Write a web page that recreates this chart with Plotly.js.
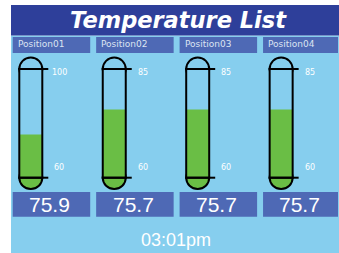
<!DOCTYPE html>
<html>
<head>
<meta charset="utf-8">
<script src="https://cdn.plot.ly/plotly-3.0.1.min.js"></script>
<style>html,body{margin:0;padding:0;background:#fff;}#chart{width:339px;height:253px;}</style>
</head>
<body>
<div id="chart"></div>
<script>
// ---- data ----
const titleText = 'Temperature List';
const positions = ['Position01', 'Position02', 'Position03', 'Position04'];
const values = [75.9, 75.7, 75.7, 75.7];
const scaleMin = [60, 60, 60, 60];
const scaleMax = [100, 85, 85, 85];
const timeLabel = '03:01pm';

// ---- layout constants (pixels) ----
const W = 339, H = 253;
const px = x => x / W;
const py = y => 1 - y / H;
const BG = '#86CEEE', BAR = '#2E3F9A', BOX = '#4E69B5', GREEN = '#6ABE45';
const pitch = 83.45;
const tubeL0 = 19.3, tubeW = 23, topY = 69, botY = 177.7, domeR = 11.5;

const traces = [];
const layout = {
  width: W, height: H,
  margin: {l: 0, r: 0, t: 0, b: 0},
  paper_bgcolor: '#ffffff',
  plot_bgcolor: 'rgba(0,0,0,0)',
  showlegend: false,
  shapes: [],
  annotations: []
};

// backgrounds
layout.shapes.push({type: 'rect', xref: 'paper', yref: 'paper', x0: px(11), x1: 1, y0: 0, y1: py(35.5), fillcolor: BG, line: {width: 0}, layer: 'below'});
layout.shapes.push({type: 'rect', xref: 'paper', yref: 'paper', x0: px(11), x1: 1, y0: py(35.5), y1: py(5), fillcolor: BAR, line: {width: 0}, layer: 'below'});
layout.annotations.push({xref: 'paper', yref: 'paper', x: px(178.5), y: py(20.5), text: titleText, showarrow: false,
  xanchor: 'center', yanchor: 'middle',
  font: {family: 'DejaVu Sans', size: 22.5, color: '#ffffff', weight: 'bold', style: 'italic'}});
layout.annotations.push({xref: 'paper', yref: 'paper', x: px(176), y: py(239.5), text: timeLabel, showarrow: false,
  xanchor: 'center', yanchor: 'middle',
  font: {family: 'Liberation Sans, Arial', size: 18, color: '#ffffff'}});

positions.forEach((name, i) => {
  const n = i === 0 ? '' : String(i + 1);
  const boxL = 12.7 + i * pitch, boxR = Math.min(boxL + 77.5, 338);
  const L = tubeL0 + i * pitch, R = L + tubeW, cx = (L + R) / 2;

  // label boxes
  layout.shapes.push({type: 'rect', xref: 'paper', yref: 'paper', x0: px(boxL), x1: px(boxR), y0: py(53), y1: py(37), fillcolor: BOX, line: {width: 0}, layer: 'below'});
  layout.shapes.push({type: 'rect', xref: 'paper', yref: 'paper', x0: px(boxL), x1: px(boxR), y0: py(216.7), y1: py(192), fillcolor: BOX, line: {width: 0}, layer: 'below'});
  layout.annotations.push({xref: 'paper', yref: 'paper', x: px(boxL + 3), y: py(43.5), text: name, showarrow: false,
    xanchor: 'left', yanchor: 'middle', font: {family: 'DejaVu Sans', size: 9, color: '#DCE4F2'}});
  layout.annotations.push({xref: 'paper', yref: 'paper', x: px((boxL + boxR) / 2 - 1.5), y: py(204), text: values[i].toFixed(1), showarrow: false,
    xanchor: 'center', yanchor: 'middle', font: {family: 'Liberation Sans, Arial', size: 21, color: '#ffffff'}});

  // thermometer body (below traces)
  layout.shapes.push({type: 'circle', xref: 'paper', yref: 'paper', x0: px(cx - domeR), x1: px(cx + domeR), y0: py(topY + domeR), y1: py(topY - domeR), fillcolor: BG, line: {color: '#000', width: 2}, layer: 'below'});
  layout.shapes.push({type: 'circle', xref: 'paper', yref: 'paper', x0: px(cx - domeR), x1: px(cx + domeR), y0: py(botY + 12.3 - 1), y1: py(botY - 12.3 + 1), fillcolor: GREEN, line: {color: '#000', width: 2}, layer: 'below'});
  layout.shapes.push({type: 'rect', xref: 'paper', yref: 'paper', x0: px(L), x1: px(R), y0: py(botY), y1: py(topY), fillcolor: BG, line: {width: 0}, layer: 'below'});
  // outline above traces
  layout.shapes.push({type: 'rect', xref: 'paper', yref: 'paper', x0: px(L), x1: px(R), y0: py(botY), y1: py(topY), fillcolor: 'rgba(0,0,0,0)', line: {color: '#000', width: 2}, layer: 'above'});
  layout.shapes.push({type: 'line', xref: 'paper', yref: 'paper', x0: px(L - 1), x1: px(R + 6), y0: py(topY), y1: py(topY), line: {color: '#000', width: 2}, layer: 'above'});
  layout.shapes.push({type: 'line', xref: 'paper', yref: 'paper', x0: px(L - 1), x1: px(R + 6), y0: py(botY), y1: py(botY), line: {color: '#000', width: 2}, layer: 'above'});

  // axes for this tube
  layout['xaxis' + n] = {domain: [px(L), px(R)], range: [-0.5, 0.5], visible: false, fixedrange: true, anchor: 'y' + n};
  layout['yaxis' + n] = {domain: [py(botY), py(topY)], range: [scaleMin[i], scaleMax[i]], visible: false, fixedrange: true, anchor: 'x' + n};

  // scale labels
  layout.annotations.push({xref: 'paper', yref: 'y' + n, x: px(R + 17), y: scaleMax[i], yshift: -3, text: String(scaleMax[i]), showarrow: false,
    xanchor: 'center', yanchor: 'middle', font: {family: 'DejaVu Sans', size: 8, color: '#ffffff'}});
  layout.annotations.push({xref: 'paper', yref: 'y' + n, x: px(R + 17), y: scaleMin[i], yshift: 10.5, text: String(scaleMin[i]), showarrow: false,
    xanchor: 'center', yanchor: 'middle', font: {family: 'DejaVu Sans', size: 8, color: '#ffffff'}});

  // mercury
  traces.push({type: 'bar', x: [0], y: [values[i] - scaleMin[i]], base: [scaleMin[i]], width: [1],
    marker: {color: GREEN, line: {width: 0}}, xaxis: 'x' + n, yaxis: 'y' + n, hoverinfo: 'skip'});
});

Plotly.newPlot('chart', traces, layout, {staticPlot: true, displayModeBar: false});
</script>
</body>
</html>
